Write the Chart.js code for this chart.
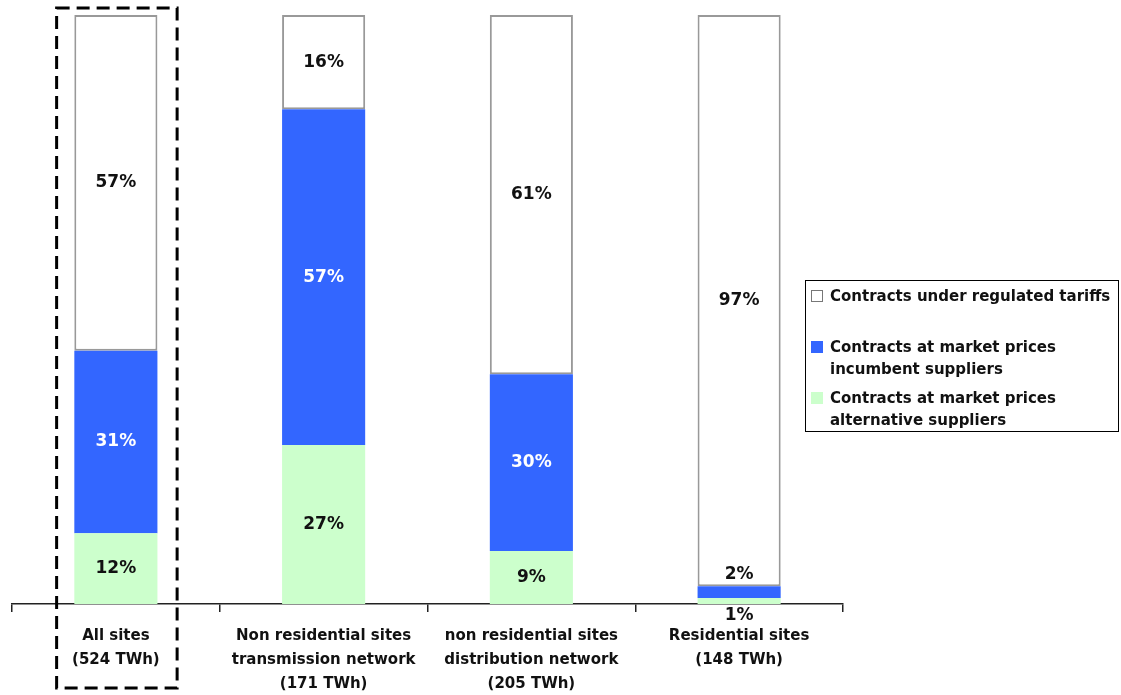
<!DOCTYPE html>
<html>
<head>
<meta charset="utf-8">
<script src="https://cdn.jsdelivr.net/npm/chart.js@4"></script>
<style>
  body { margin: 0; background: #fff; }
  #wrap { position: relative; width: 1121px; height: 695px; }
  #legend {
    position: absolute; left: 805px; top: 280px; width: 314px; height: 152px;
    border: 1.5px solid #000; box-sizing: border-box;
    font: bold 15px "DejaVu Sans", sans-serif; color: #111; line-height: 22px;
  }
  .item { position: absolute; left: 4px; padding-left: 20px; white-space: nowrap; }
  .box { position: absolute; left: 1px; top: 5px; width: 12px; height: 12px; box-sizing: border-box; }
</style>
</head>
<body>
<div id="wrap">
  <canvas id="chart" width="1121" height="695"></canvas>
  <div id="legend"></div>
</div>
<script>
const categories = [
    ['All sites', '(524 TWh)'],
    ['Non residential sites', 'transmission network', '(171 TWh)'],
    ['non residential sites', 'distribution network', '(205 TWh)'],
    ['Residential sites', '(148 TWh)']
];
// stacked from the bottom up
const alternativeSuppliers = [12, 27, 9, 1];
const incumbentSuppliers = [31, 57, 30, 2];
const regulatedTariffs = [57, 16, 61, 97];

const legendNames = [
    ['Contracts under regulated tariffs'],
    ['Contracts at market prices', 'incumbent suppliers'],
    ['Contracts at market prices', 'alternative suppliers']
];

const BLUE = '#3366ff';
const GREEN = '#ccffcc';

/* ==================== PLUGINS ==================== */

// percentage labels on each segment
const segmentLabels = {
    id: 'segmentLabels',
    afterDatasetsDraw(chart) {
        const ctx = chart.ctx;
        ctx.save();
        ctx.font = 'bold 17px "DejaVu Sans"';
        ctx.textAlign = 'center';
        ctx.textBaseline = 'middle';
        chart.data.datasets.forEach((ds, i) => {
            const meta = chart.getDatasetMeta(i);
            meta.data.forEach((bar, j) => {
                const h = bar.base - bar.y;
                let y = (bar.y + bar.base) / 2;
                let inside = true;
                if (h < 22) {
                    inside = false;
                    y = i === 0 ? bar.base + 12 : bar.y - 12;
                }
                ctx.fillStyle = inside && ds.backgroundColor === BLUE ? '#fff' : '#111';
                ctx.fillText(ds.data[j] + '%', bar.x, y);
            });
        });
        ctx.restore();
    }
};

// dashed frame around the first category
const highlightFrame = {
    id: 'highlightFrame',
    afterDraw(chart) {
        const x = chart.scales.x;
        const cx = x.getPixelForValue(0);
        const half = x.width / categories.length * 0.29;
        const ctx = chart.ctx;
        ctx.save();
        ctx.strokeStyle = '#000';
        ctx.lineWidth = 3;
        ctx.setLineDash([13, 7]);
        ctx.strokeRect(cx - half + 1, 8, half * 2, 680);
        ctx.restore();
    }
};

/* ==================== CHART ==================== */

new Chart(document.getElementById('chart').getContext('2d'), {
    type: 'bar',
    data: {
        labels: categories,
        datasets: [
            { label: legendNames[2].join(' '), data: alternativeSuppliers, backgroundColor: GREEN, borderWidth: 0 },
            { label: legendNames[1].join(' '), data: incumbentSuppliers, backgroundColor: BLUE, borderWidth: 0 },
            { label: legendNames[0][0], data: regulatedTariffs, backgroundColor: '#ffffff',
              borderColor: '#999999', borderWidth: 2, borderSkipped: false }
        ]
    },
    options: {
        responsive: false,
        animation: false,
        layout: { padding: { left: 12, right: 278, top: 15, bottom: 0 } },
        datasets: { bar: { categoryPercentage: 1, barPercentage: 0.4 } },
        plugins: {
            legend: { display: false },
            tooltip: { enabled: false }
        },
        scales: {
            x: {
                stacked: true,
                afterFit(scale) { scale.height = 91; },
                border: { display: true, color: '#222', width: 1.5 },
                grid: { offset: true, drawOnChartArea: false, drawTicks: true, tickLength: 8, color: '#222', lineWidth: 1.5 },
                ticks: {
                    color: '#111',
                    padding: 12,
                    maxRotation: 0,
                    autoSkip: false,
                    font: { family: 'DejaVu Sans', size: 15, weight: 'bold', lineHeight: 1.6 }
                }
            },
            y: {
                stacked: true,
                display: false,
                min: 0,
                max: 100
            }
        }
    },
    plugins: [segmentLabels, highlightFrame]
});

/* ==================== LEGEND ==================== */

const legendEl = document.getElementById('legend');
const legendStyles = [
    { top: 4, bg: '#fff', border: '1.5px solid #777' },
    { top: 55, bg: BLUE, border: 'none' },
    { top: 106, bg: GREEN, border: 'none' }
];
legendNames.forEach((lines, i) => {
    const s = legendStyles[i];
    const item = document.createElement('div');
    item.className = 'item';
    item.style.top = s.top + 'px';
    item.innerHTML = `<span class="box" style="background:${s.bg};border:${s.border}"></span>` + lines.join('<br>');
    legendEl.appendChild(item);
});
</script>
</body>
</html>
